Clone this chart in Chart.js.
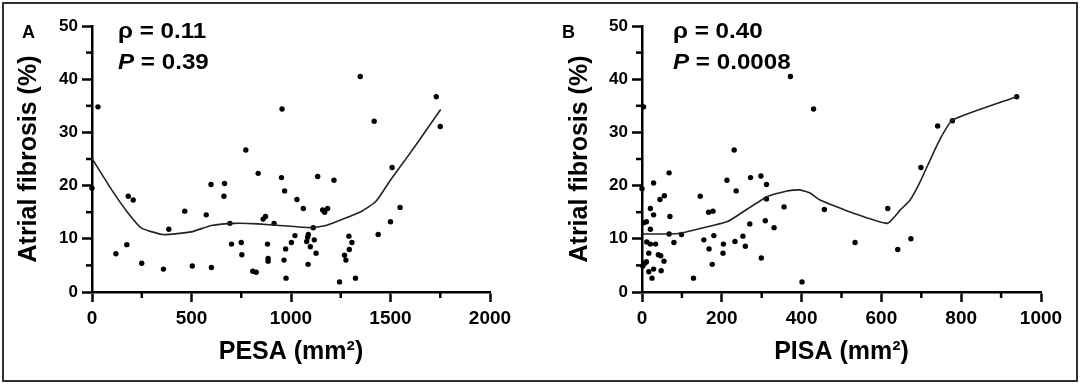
<!DOCTYPE html>
<html lang="en">
<head>
  <meta charset="UTF-8">
  <title>Atrial fibrosis vs PESA / PISA</title>
  <style>
    html, body { margin: 0; padding: 0; background: #fff; }
    #wrap { position: relative; width: 1080px; height: 385px; overflow: hidden; }
    #frame {
      position: absolute; left: 2px; top: 2px; width: 1076px; height: 380px;
      box-sizing: border-box; border: 2px solid #333; pointer-events: none;
    }
    .panel { position: absolute; top: 0; width: 540px; height: 385px; }
  </style>
</head>
<body>
<div id="wrap">
  <div class="panel" style="left:0"><canvas id="chartA" width="540" height="385"></canvas></div>
  <div class="panel" style="left:540px"><canvas id="chartB" width="540" height="385"></canvas></div>
  <div id="frame"></div>
</div>

<script src="https://cdn.jsdelivr.net/npm/chart.js"></script>
<script>
  // Panel A: PESA (mm²) vs atrial fibrosis (%)
  const pesaX = [30, 0, 182, 207, 120, 175, 250, 359, 386, 466, 504, 574, 598, 600, 666, 663, 693, 701,
    750, 753, 773, 808, 825, 835, 860, 872, 882, 885, 885, 915, 955, 952, 968, 973, 965, 975, 1002,
    1020, 1030, 1062, 1134, 1216, 1348, 1418, 1112, 1087, 1084, 1079, 1117, 1097, 1126, 1086, 1159,
    1169, 1184, 1244, 1324, 1291, 1306, 1293, 1269, 1276, 1438, 1500, 1548, 1508, 1730, 1750];
  const pesaFib = [34.8, 19.5, 18.0, 17.3, 7.2, 8.9, 5.4, 4.3, 11.8, 15.2, 4.9, 14.5, 20.2, 4.6, 20.4, 18.0, 12.9, 9.0,
    9.3, 7.0, 26.7, 3.9, 3.7, 22.3, 13.7, 14.2, 9.0, 6.3, 5.8, 12.9, 34.4, 21.5, 19.0, 8.1, 6.0, 2.6, 9.3,
    10.6, 17.4, 15.7, 21.7, 21.0, 40.5, 32.1, 12.1, 10.8, 10.3, 9.5, 9.8, 8.5, 7.3, 5.2, 15.4,
    15.0, 15.7, 1.9, 2.6, 10.5, 9.3, 8.0, 6.9, 6.0, 10.8, 13.2, 15.9, 23.4, 36.7, 31.1];
  const loessAx = [0, 99, 182, 249, 357, 499, 600, 716, 833, 1017, 1112, 1184, 1351, 1426, 1501, 1585, 1668, 1752];
  const loessAy = [25.1, 19.2, 14.8, 12.0, 10.8, 11.3, 12.5, 12.9, 12.8, 12.3, 12.1, 12.6, 15.1, 17.0, 21.1, 25.4, 29.8, 34.3];

  // Panel B: PISA (mm²) vs atrial fibrosis (%)
  const pisaX = [372, 4, 231, 68, 29, 213, 272, 298, 312, 236, 0, 56, 45, 146, 312, 356, 21, 29, 70, 167,
    178, 11, 4, 21, 68, 99, 80, 12, 21, 34, 155, 180, 168, 176, 204, 203, 233, 253, 259, 270, 309, 331,
    299, 401, 129, 17, 41, 47, 55, 11, 7, 2, 29, 17, 48, 25, 430, 741, 778, 939, 699, 457, 616, 534, 674, 641];
  const pisaFib = [40.5, 34.8, 26.7, 22.4, 20.5, 21.0, 21.5, 21.8, 20.2, 19.0, 19.4, 18.1, 17.4, 18.0, 17.5, 16.0, 15.7, 14.5, 14.2, 15.0,
    15.2, 13.2, 13.0, 11.8, 10.9, 10.8, 9.3, 9.4, 9.0, 9.0, 9.8, 10.6, 8.1, 5.2, 9.0, 7.3, 9.5, 10.5, 8.6, 12.8, 13.4, 12.1,
    6.4, 1.9, 2.6, 7.3, 7.0, 6.8, 5.8, 5.7, 5.4, 4.9, 4.3, 3.8, 4.0, 2.6, 34.4, 31.2, 32.2, 36.7, 23.4, 15.5, 15.7, 9.3, 10.0, 8.0];
  const loessBx = [0, 70, 99, 138, 213, 246, 313, 363, 396, 421, 446, 530, 615, 647, 672, 697, 742, 778, 939];
  const loessBy = [10.9, 10.9, 11.1, 11.8, 13.2, 14.7, 17.9, 19.0, 19.2, 18.6, 17.3, 14.8, 12.9, 15.4, 17.3, 20.7, 28.0, 32.3, 36.7];

  // axis ticks
  const fibTicks = [0, 10, 20, 30, 40, 50];
  const fibMinor = [5, 15, 25, 35, 45];
  const pesaTicks = [0, 500, 1000, 1500, 2000];
  const pesaMinor = [250, 750, 1250, 1750];
  const pisaTicks = [0, 200, 400, 600, 800, 1000];
  const pisaMinor = [100, 300, 500, 700, 900];

  const FONT = "'Liberation Sans', Arial, sans-serif";

  const toXY = (xs, ys) => xs.map((x, i) => ({ x: x, y: ys[i] }));

  // shorter minor ticks between the labelled ones
  const minorTicks = {
    id: 'minorTicks',
    afterDraw(chart, args, opts) {
      const { ctx } = chart;
      const xs = chart.scales.x, ys = chart.scales.y;
      ctx.save();
      ctx.strokeStyle = '#000';
      ctx.lineWidth = 2.5;
      opts.x.forEach(v => {
        const px = xs.getPixelForValue(v);
        ctx.beginPath(); ctx.moveTo(px, xs.top); ctx.lineTo(px, xs.top + 6); ctx.stroke();
      });
      opts.y.forEach(v => {
        const py = ys.getPixelForValue(v);
        ctx.beginPath(); ctx.moveTo(ys.right, py); ctx.lineTo(ys.right - 6, py); ctx.stroke();
      });
      ctx.restore();
    }
  };

  // panel letter and the rho / P annotation
  const notes = {
    id: 'notes',
    afterDraw(chart, args, opts) {
      const { ctx } = chart;
      ctx.save();
      ctx.fillStyle = '#000';
      ctx.textBaseline = 'alphabetic';
      ctx.font = 'bold 18px ' + FONT;
      ctx.fillText(opts.letter, 22, 38);

      const sx = 1.1;
      ctx.translate(opts.x, 0);
      ctx.scale(sx, 1);
      ctx.font = 'bold 22px ' + FONT;
      ctx.fillText('ρ = ' + opts.rho, 0, 38);
      ctx.font = 'italic bold 22px ' + FONT;
      ctx.fillText('P', 0, 69);
      const w = ctx.measureText('P').width;
      ctx.font = 'bold 22px ' + FONT;
      ctx.fillText(' = ' + opts.p, w, 69);
      ctx.restore();
    }
  };

  function makePanel(id, cfg) {
    const tickFont = size => ({ family: FONT, size: size, weight: 'bold' });
    new Chart(document.getElementById(id), {
      type: 'scatter',
      data: {
        datasets: [{
          type: 'line',
          data: toXY(cfg.lx, cfg.ly),
          borderColor: '#222',
          borderWidth: 1.6,
          pointRadius: 0,
          tension: 0.15,
          fill: false
        }, {
          data: toXY(cfg.px, cfg.py),
          backgroundColor: '#000',
          borderColor: '#000',
          pointRadius: 2.7,
          pointBorderWidth: 0
        }]
      },
      options: {
        responsive: false,
        animation: false,
        clip: false,
        layout: { padding: { left: 0, right: cfg.padRight, top: 26, bottom: 0 } },
        plugins: {
          legend: { display: false },
          tooltip: { enabled: false },
          minorTicks: { x: cfg.xMinor, y: fibMinor },
          notes: { letter: cfg.letter, rho: cfg.rho, p: cfg.p, x: cfg.noteX }
        },
        scales: {
          x: {
            type: 'linear',
            min: 0,
            max: cfg.xTicks[cfg.xTicks.length - 1],
            afterBuildTicks: s => { s.ticks = cfg.xTicks.map(v => ({ value: v })); },
            afterFit: s => { s.height = 93; },
            ticks: { color: '#000', font: tickFont(19), padding: 5, maxRotation: 0, autoSkip: false,
                     callback: v => String(v) },
            grid: { drawOnChartArea: false, drawTicks: true, tickLength: 10, tickWidth: 2.5, tickColor: '#000' },
            border: { display: true, color: '#000', width: 2.5 },
            title: { display: true, text: cfg.xTitle, color: '#000', font: tickFont(25), padding: { top: 0, bottom: 18 } }
          },
          y: {
            type: 'linear',
            min: 0,
            max: 50,
            afterBuildTicks: s => { s.ticks = fibTicks.map(v => ({ value: v })); },
            afterFit: s => { s.width = cfg.yWidth; },
            ticks: { color: '#000', font: tickFont(17), padding: 4, callback: v => String(v) },
            grid: { drawOnChartArea: false, drawTicks: true, tickLength: 10, tickWidth: 2.5, tickColor: '#000' },
            border: { display: true, color: '#000', width: 2.5 },
            title: { display: true, text: 'Atrial fibrosis (%)', color: '#000', font: tickFont(25), padding: { top: cfg.yTitlePad, bottom: 0 } }
          }
        }
      },
      plugins: [minorTicks, notes]
    });
  }

  makePanel('chartA', {
    px: pesaX, py: pesaFib, lx: loessAx, ly: loessAy,
    xTicks: pesaTicks, xMinor: pesaMinor, xTitle: 'PESA (mm²)',
    yWidth: 92, padRight: 50, yTitlePad: 14,
    letter: 'A', rho: '0.11', p: '0.39', noteX: 118
  });

  makePanel('chartB', {
    px: pisaX, py: pisaFib, lx: loessBx, ly: loessBy,
    xTicks: pisaTicks, xMinor: pisaMinor, xTitle: 'PISA (mm²)',
    yWidth: 102, padRight: 39, yTitlePad: 25,
    letter: 'B', rho: '0.40', p: '0.0008', noteX: 133
  });
</script>
</body>
</html>
